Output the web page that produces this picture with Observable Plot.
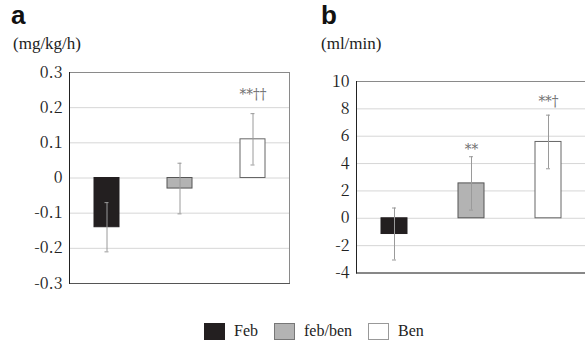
<!DOCTYPE html>
<html><head><meta charset="utf-8">
<script src="https://cdn.jsdelivr.net/npm/d3@7"></script>
<script src="https://cdn.jsdelivr.net/npm/@observablehq/plot@0.6"></script>
<style>
html,body{margin:0;padding:0;background:#fff;overflow:hidden}
#root{position:relative;width:585px;height:343px;overflow:hidden;font-family:"Liberation Serif","Times New Roman",serif;color:#222}
.panel{position:absolute;top:0}
.lab{position:absolute;font-family:"Liberation Sans",Arial,sans-serif;font-weight:bold;font-size:26px;line-height:1;color:#111}
.unit{position:absolute;font-family:"Liberation Serif","Times New Roman",serif;font-size:17px;line-height:1;color:#222}
#legend{position:absolute;top:322px;left:204px;display:flex;align-items:center;font-family:"Liberation Serif","Times New Roman",serif;font-size:16px;line-height:18px}
#legend .item{display:flex;align-items:center;margin-right:16px}
#legend .sw{width:21px;height:17px;margin-right:9px;box-sizing:border-box;border:1px solid #666}
</style></head><body><div id="root"></div>
<script>
// Data
const groups = ["Feb", "feb/ben", "Ben"];
const fills = ["#231f20", "#b3b3b3", "#ffffff"];
const strokes = ["#231f20", "#555555", "#666666"];

const aMean = [-0.14, -0.03, 0.11];
const aErr = [0.07, 0.072, 0.073];
const aMarks = ["", "", "**††"];
const aMarkY = [null, null, 0.239];
const aTicks = [-0.3, -0.2, -0.1, 0, 0.1, 0.2, 0.3];
const aTickLabels = ["-0.3", "-0.2", "-0.1", "0", "0.1", "0.2", "0.3"];

const bMean = [-1.15, 2.55, 5.58];
const bErr = [1.9, 1.95, 1.96];
const bMarks = ["", "**", "**†"];
const bMarkY = [null, 5.03, 8.57];
const bTicks = [-4, -2, 0, 2, 4, 6, 8, 10];
const bTickLabels = ["-4", "-2", "0", "2", "4", "6", "8", "10"];

const DIGITS = "'Noto Serif CJK SC', 'DejaVu Serif Condensed', serif";
const ANNOT = "'DejaVu Serif Condensed', 'DejaVu Serif', serif";
const root = document.getElementById("root");

function panel(mean, err, marks, markY, ticks, tickLabels, geom) {
  const data = groups.map((g, i) => ({
    g, v: mean[i], lo: mean[i] - err[i], hi: mean[i] + err[i],
    m: marks[i], my: markY[i], fill: fills[i], stroke: strokes[i]
  }));
  const ann = data.filter(d => d.m);
  const errColor = "#9a9a9a";
  return Plot.plot({
    width: geom.width, height: geom.height,
    marginLeft: geom.ml, marginRight: geom.mr, marginTop: geom.mt, marginBottom: geom.mb,
    x: {domain: groups, paddingInner: 0.66, paddingOuter: 0.33, axis: null},
    y: {domain: [ticks[0], ticks[ticks.length - 1]], axis: null},
    color: {type: "identity"},
    style: {fontFamily: DIGITS, fontSize: "16px", color: "#222", background: "transparent", overflow: "visible"},
    marks: [
      Plot.gridY(ticks, {stroke: "#d6d6d6", strokeOpacity: 1}),
      Plot.barY(data, {x: "g", y: "v", fill: "fill", stroke: "stroke", strokeWidth: 1}),
      Plot.ruleX(data, {x: "g", y1: "lo", y2: "hi", stroke: errColor, strokeWidth: 1}),
      Plot.tickY(data, {x: "g", y: "lo", stroke: errColor, insetLeft: geom.cap, insetRight: geom.cap}),
      Plot.tickY(data, {x: "g", y: "hi", stroke: errColor, insetLeft: geom.cap, insetRight: geom.cap}),
      Plot.text(ann, {x: "g", y: "my", text: "m", fill: "#707070", fontSize: 15, fontFamily: ANNOT}),
      Plot.axisY(ticks, {tickSize: 0, tickPadding: 7, tickFormat: (d) => tickLabels[ticks.indexOf(d)], fontSize: 16, fontFamily: DIGITS, fill: "#222"}),
      Plot.frame({stroke: "#8a8a8a"}),
      Plot.frame({anchor: "bottom", stroke: "#555"}),
      Plot.frame({anchor: "left", stroke: "#222"})
    ]
  });
}

const svgA = panel(aMean, aErr, aMarks, aMarkY, aTicks, aTickLabels,
  {width: 290, height: 300, ml: 69, mr: 1, mt: 72, mb: 17, cap: 10.5});
svgA.classList.add("panel");
svgA.style.left = "0px";
root.appendChild(svgA);

const svgB = panel(bMean, bErr, bMarks, bMarkY, bTicks, bTickLabels,
  {width: 298, height: 300, ml: 66, mr: 1, mt: 81, mb: 27.5, cap: 11});
svgB.classList.add("panel");
svgB.style.left = "290px";
root.appendChild(svgB);

function addText(cls, txt, left, top) {
  const d = document.createElement("div");
  d.className = cls; d.textContent = txt;
  d.style.left = left + "px"; d.style.top = top + "px";
  root.appendChild(d);
}
addText("lab", "a", 11, 2);
addText("unit", "(mg/kg/h)", 13, 35);
addText("lab", "b", 321, 2);
addText("unit", "(ml/min)", 321, 35);

const legend = document.createElement("div");
legend.id = "legend";
groups.forEach((g, i) => {
  const it = document.createElement("div"); it.className = "item";
  const sw = document.createElement("div"); sw.className = "sw";
  sw.style.background = fills[i];
  sw.style.borderColor = i === 0 ? fills[0] : (i === 1 ? "#777" : "#999");
  const t = document.createElement("span"); t.textContent = g;
  it.appendChild(sw); it.appendChild(t); legend.appendChild(it);
});
root.appendChild(legend);
</script>
</body></html>
